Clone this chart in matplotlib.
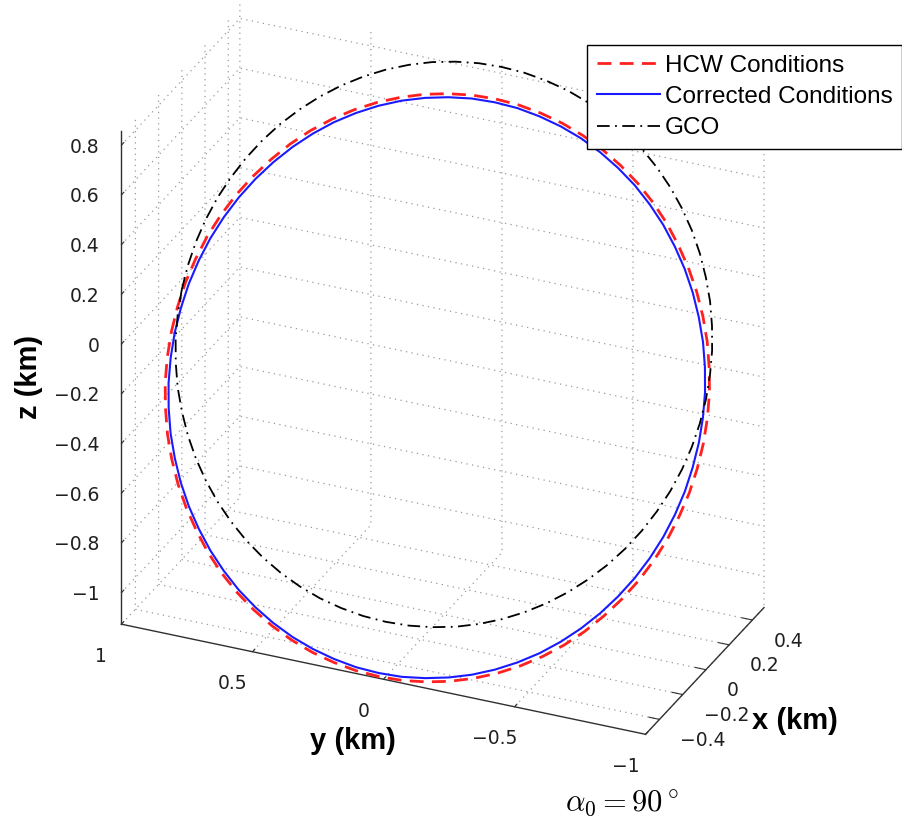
import matplotlib
matplotlib.use('Agg')
import matplotlib.pyplot as plt
import matplotlib.transforms as mtransforms
import numpy as np
from mpl_toolkits.mplot3d import proj3d

# orbit samples every 5 deg of phase (km)
orbit_x = [0.000, 0.044, 0.087, 0.129, 0.171, 0.211, 0.250, 0.287, 0.321, 0.354, 0.383, 0.410,
           0.433, 0.453, 0.470, 0.483, 0.492, 0.498, 0.500, 0.498, 0.492, 0.483, 0.470, 0.453,
           0.433, 0.410, 0.383, 0.354, 0.321, 0.287, 0.250, 0.211, 0.171, 0.129, 0.087, 0.044,
           0.000, -0.044, -0.087, -0.129, -0.171, -0.211, -0.250, -0.287, -0.321, -0.354, -0.383, -0.410,
           -0.433, -0.453, -0.470, -0.483, -0.492, -0.498, -0.500, -0.498, -0.492, -0.483, -0.470, -0.453,
           -0.433, -0.410, -0.383, -0.354, -0.321, -0.287, -0.250, -0.211, -0.171, -0.129, -0.087, -0.044]

gco_y = [1.000, 0.996, 0.985, 0.966, 0.940, 0.906, 0.866, 0.819, 0.766, 0.707, 0.643, 0.574,
         0.500, 0.423, 0.342, 0.259, 0.174, 0.087, 0.000, -0.087, -0.174, -0.259, -0.342, -0.423,
         -0.500, -0.574, -0.643, -0.707, -0.766, -0.819, -0.866, -0.906, -0.940, -0.966, -0.985, -0.996,
         -1.000, -0.996, -0.985, -0.966, -0.940, -0.906, -0.866, -0.819, -0.766, -0.707, -0.643, -0.574,
         -0.500, -0.423, -0.342, -0.259, -0.174, -0.087, 0.000, 0.087, 0.174, 0.259, 0.342, 0.423,
         0.500, 0.574, 0.643, 0.707, 0.766, 0.819, 0.866, 0.906, 0.940, 0.966, 0.985, 0.996]
gco_z = [-0.040, 0.036, 0.110, 0.184, 0.256, 0.326, 0.393, 0.457, 0.517, 0.572, 0.623, 0.669,
         0.710, 0.745, 0.774, 0.797, 0.813, 0.823, 0.826, 0.823, 0.813, 0.797, 0.774, 0.745,
         0.710, 0.669, 0.623, 0.572, 0.517, 0.457, 0.393, 0.326, 0.256, 0.184, 0.110, 0.036,
         -0.040, -0.116, -0.190, -0.264, -0.336, -0.406, -0.473, -0.537, -0.597, -0.652, -0.703, -0.749,
         -0.790, -0.825, -0.854, -0.877, -0.893, -0.903, -0.906, -0.903, -0.893, -0.877, -0.854, -0.825,
         -0.790, -0.749, -0.703, -0.652, -0.597, -0.537, -0.473, -0.406, -0.336, -0.264, -0.190, -0.116]

corr_y = [1.027, 1.023, 1.012, 0.993, 0.967, 0.933, 0.893, 0.846, 0.793, 0.734, 0.670, 0.601,
          0.527, 0.450, 0.369, 0.286, 0.201, 0.114, 0.027, -0.060, -0.147, -0.232, -0.315, -0.396,
          -0.473, -0.547, -0.616, -0.680, -0.739, -0.792, -0.839, -0.879, -0.913, -0.939, -0.958, -0.969,
          -0.973, -0.969, -0.958, -0.939, -0.913, -0.879, -0.839, -0.792, -0.739, -0.680, -0.616, -0.547,
          -0.473, -0.396, -0.315, -0.232, -0.147, -0.060, 0.027, 0.114, 0.201, 0.286, 0.369, 0.450,
          0.527, 0.601, 0.670, 0.734, 0.793, 0.846, 0.893, 0.933, 0.967, 0.993, 1.012, 1.023]
corr_z = [-0.220, -0.142, -0.064, 0.012, 0.087, 0.160, 0.229, 0.295, 0.357, 0.415, 0.468, 0.516,
          0.558, 0.594, 0.624, 0.647, 0.664, 0.675, 0.678, 0.675, 0.664, 0.647, 0.624, 0.594,
          0.558, 0.516, 0.468, 0.415, 0.357, 0.295, 0.229, 0.160, 0.087, 0.012, -0.064, -0.142,
          -0.220, -0.298, -0.376, -0.452, -0.527, -0.600, -0.669, -0.735, -0.797, -0.855, -0.908, -0.956,
          -0.998, -1.034, -1.064, -1.087, -1.104, -1.115, -1.118, -1.115, -1.104, -1.087, -1.064, -1.034,
          -0.998, -0.956, -0.908, -0.855, -0.797, -0.735, -0.669, -0.600, -0.527, -0.452, -0.376, -0.298]

hcw_y = [1.040, 1.036, 1.025, 1.005, 0.979, 0.945, 0.904, 0.856, 0.802, 0.743, 0.678, 0.608,
         0.533, 0.454, 0.372, 0.288, 0.202, 0.113, 0.025, -0.063, -0.152, -0.238, -0.322, -0.404,
         -0.483, -0.558, -0.628, -0.693, -0.752, -0.806, -0.854, -0.895, -0.929, -0.955, -0.975, -0.986,
         -0.990, -0.986, -0.975, -0.955, -0.929, -0.895, -0.854, -0.806, -0.752, -0.693, -0.628, -0.558,
         -0.483, -0.404, -0.322, -0.238, -0.152, -0.063, 0.025, 0.113, 0.202, 0.288, 0.372, 0.454,
         0.533, 0.608, 0.678, 0.743, 0.802, 0.856, 0.904, 0.945, 0.979, 1.005, 1.025, 1.036]
hcw_z = [-0.220, -0.141, -0.062, 0.016, 0.092, 0.165, 0.236, 0.303, 0.366, 0.425, 0.479, 0.527,
         0.570, 0.607, 0.637, 0.661, 0.678, 0.689, 0.692, 0.689, 0.678, 0.661, 0.637, 0.607,
         0.570, 0.527, 0.479, 0.425, 0.366, 0.303, 0.236, 0.165, 0.092, 0.016, -0.062, -0.141,
         -0.220, -0.300, -0.378, -0.456, -0.532, -0.605, -0.676, -0.743, -0.806, -0.865, -0.919, -0.967,
         -1.010, -1.047, -1.077, -1.101, -1.118, -1.129, -1.132, -1.129, -1.118, -1.101, -1.077, -1.047,
         -1.010, -0.967, -0.919, -0.865, -0.806, -0.743, -0.676, -0.605, -0.532, -0.456, -0.378, -0.300]

series_names = ['HCW Conditions', 'Corrected Conditions', 'GCO']

x_ticks = [-0.4, -0.2, 0, 0.2, 0.4]
x_labels = ['\u22120.4', '\u22120.2', '0', '0.2', '0.4']
y_ticks = [-1, -0.5, 0, 0.5, 1]
y_labels = ['\u22121', '\u22120.5', '0', '0.5', '1']
z_ticks = [-1, -0.8, -0.6, -0.4, -0.2, 0, 0.2, 0.4, 0.6, 0.8]
z_labels = ['\u22121', '\u22120.8', '\u22120.6', '\u22120.4', '\u22120.2',
            '0', '0.2', '0.4', '0.6', '0.8']

x_lim = (-0.52, 0.50)
y_lim = (-1.0, 1.0)
z_lim = (-1.127, 0.856)

plt.rcParams['font.family'] = ['Liberation Sans', 'DejaVu Sans']
plt.rcParams['mathtext.fontset'] = 'cm'
plt.rcParams['axes.edgecolor'] = '#303030'
plt.rcParams['xtick.color'] = '#303030'
plt.rcParams['ytick.color'] = '#303030'
tick_font = dict(family='DejaVu Sans', size=13.5, color='#202020')

W, H = 903, 826
fig = plt.figure(figsize=(W / 100, H / 100), dpi=100)
side = 700
ax = fig.add_axes([100 / W, 60 / H, side / W, side / H], projection='3d', proj_type='ortho')
ax.computed_zorder = False


def closed(a):
    a = np.asarray(a, dtype=float)
    return np.r_[a, a[:1]]


ox = closed(orbit_x)
h1, = ax.plot(ox, closed(hcw_y), closed(hcw_z), color='#ff2020', ls=(0, (5, 3)), lw=2.0)
h2, = ax.plot(ox, closed(corr_y), closed(corr_z), color='#1a1aff', ls='-', lw=1.5)
h3, = ax.plot(ox, closed(gco_y), closed(gco_z), color='black', ls=(0, (7, 3, 1, 3)), lw=1.3)

ax.set_xlim(*x_lim, view_margin=0)
ax.set_ylim(*y_lim, view_margin=0)
ax.set_zlim(*z_lim, view_margin=0)
ax.set_box_aspect((x_lim[1] - x_lim[0], y_lim[1] - y_lim[0], 0.985 * (z_lim[1] - z_lim[0])))
ax.view_init(elev=28.3, azim=-156.1)

ax.set_xticks(x_ticks)
ax.set_yticks(y_ticks)
ax.set_zticks(z_ticks)
for axis in (ax.xaxis, ax.yaxis, ax.zaxis):
    axis.set_ticklabels([])
    axis.set_pane_color((1, 1, 1, 0))
    axis._axinfo['tick']['inward_factor'] = 0.0
    axis._axinfo['tick']['outward_factor'] = 0.25
    axis._axinfo['grid'].update(color='#9a9a9a', linestyle=(0, (1, 3.5)), linewidth=0.9)
    axis.line.set_linewidth(1.0)

# fit the box corners onto the reference layout
corners = np.array([[x_lim[0], y_lim[1], z_lim[0]],
                    [x_lim[0], y_lim[0], z_lim[0]],
                    [x_lim[0], y_lim[1], z_lim[1]],
                    [x_lim[1], y_lim[0], z_lim[0]]])
targets = np.array([[121.7, 623.3], [646.0, 733.0], [121.7, 130.0], [763.0, 611.0]])
targets[:, 1] = H - targets[:, 1]


def to_px(xs, ys, zs):
    px, py, _ = proj3d.proj_transform(np.asarray(xs, float), np.asarray(ys, float),
                                      np.asarray(zs, float), ax.M)
    return ax.transData.transform(np.column_stack([px, py]))


for _ in range(3):
    fig.canvas.draw()
    pts = to_px(corners[:, 0], corners[:, 1], corners[:, 2])
    pm, tm = pts.mean(0), targets.mean(0)
    k = ((pts - pm) * (targets - tm)).sum() / ((pts - pm) ** 2).sum()
    shift = tm - k * pm
    bb = ax.get_position().transformed(fig.transFigure)
    ax.set_position([(k * bb.x0 + shift[0]) / W, (k * bb.y0 + shift[1]) / H,
                     k * bb.width / W, k * bb.height / H])
fig.canvas.draw()

# MATLAB-style tick labels next to the axis edges
px_tf = mtransforms.IdentityTransform()
n = len(z_ticks)
zp = to_px([x_lim[0]] * n, [y_lim[1]] * n, z_ticks)
for (u, v), lab in zip(zp, z_labels):
    fig.text(u - 22, v, lab, ha='right', va='center_baseline', transform=px_tf, **tick_font)
n = len(y_ticks)
yp = to_px([x_lim[0]] * n, y_ticks, [z_lim[0]] * n)
for (u, v), lab in zip(yp, y_labels):
    fig.text(u - 20, v - 30, lab, ha='center', va='center_baseline', transform=px_tf, **tick_font)
n = len(x_ticks)
xp = to_px(x_ticks, [y_lim[0]] * n, [z_lim[0]] * n)
for (u, v), lab in zip(xp, x_labels):
    fig.text(u + 21, v - 19, lab, ha='left', va='center_baseline', transform=px_tf, **tick_font)

fig.text(29 / W, 1 - 377 / H, 'z (km)', rotation=90, ha='center', va='center',
         fontsize=21, fontweight='bold')
fig.text(353 / W, 1 - 741 / H, 'y (km)', ha='center', va='center',
         fontsize=21, fontweight='bold')
fig.text(795 / W, 1 - 721 / H, 'x (km)', ha='center', va='center',
         fontsize=21, fontweight='bold')

leg = fig.legend([h1, h2, h3], series_names, loc='upper left',
                 bbox_to_anchor=(587 / W, 1 - 45 / H), fontsize=17.5,
                 fancybox=False, edgecolor='black', framealpha=1,
                 handlelength=2.6, handletextpad=0.2, borderpad=0.4,
                 labelspacing=0.38, borderaxespad=0)
leg.get_frame().set_linewidth(1.0)

fig.text(565 / W, 1 - 812 / H, r'$\alpha_0 = 90^\circ$', fontsize=22, va='baseline')

fig.savefig('out.png', dpi=100)
